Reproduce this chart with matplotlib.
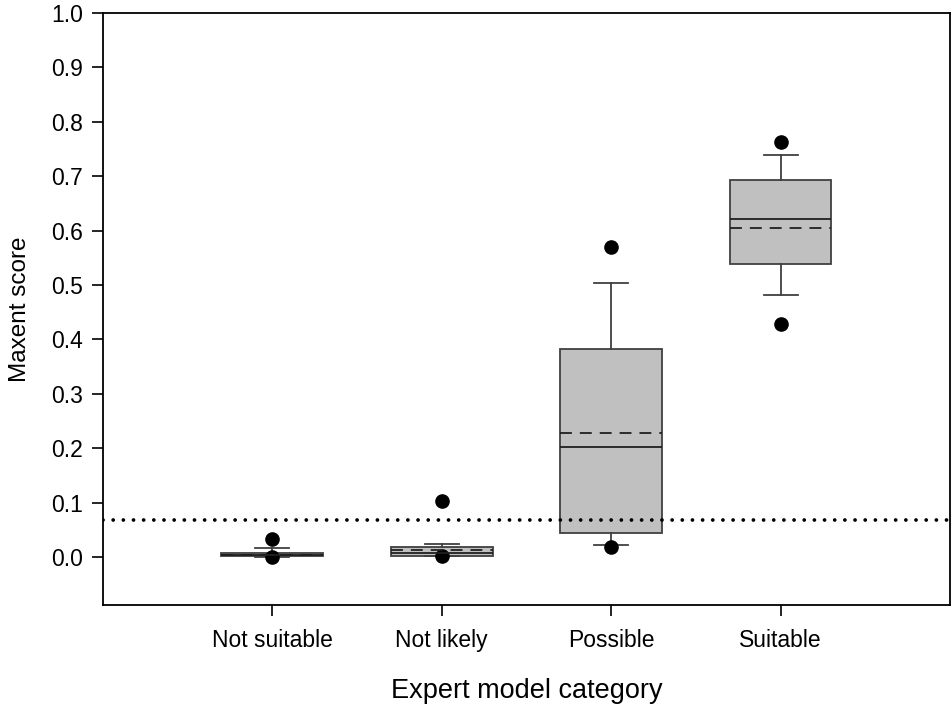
import matplotlib
matplotlib.use("Agg")
import matplotlib.pyplot as plt

# values
categories = ["Not suitable", "Not likely", "Possible", "Suitable"]
q1 = [0.002, 0.003, 0.044, 0.538]
med = [0.004, 0.008, 0.203, 0.621]
q3 = [0.008, 0.019, 0.383, 0.693]
means = [0.005, 0.013, 0.229, 0.605]
whislo = [0.001, 0.003, 0.023, 0.481]
whishi = [0.017, 0.025, 0.503, 0.738]
outliers = [[0.033, 0.000], [0.103, 0.002], [0.570, 0.019], [0.762, 0.429]]
threshold = 0.069

plt.rcParams['font.family'] = ['Liberation Sans', 'DejaVu Sans']

stats = []
for i in range(len(categories)):
    stats.append(dict(label=categories[i], q1=q1[i], med=med[i], q3=q3[i],
                      mean=means[i], whislo=whislo[i], whishi=whishi[i],
                      fliers=outliers[i]))

fig = plt.figure(figsize=(9.52, 7.07), dpi=100)
ax = fig.add_axes([0.108, 0.144, 0.890, 0.838])

edge = "#404040"
ax.bxp(stats, positions=[1, 2, 3, 4], widths=0.6, patch_artist=True,
       showmeans=True, meanline=True,
       boxprops=dict(facecolor="#c0c0c0", edgecolor=edge, linewidth=1.3),
       medianprops=dict(color="#202020", linewidth=1.3),
       meanprops=dict(color="#202020", linewidth=1.3, linestyle=(0, (6.6, 4.4))),
       whiskerprops=dict(color=edge, linewidth=1.3),
       capprops=dict(color=edge, linewidth=1.3),
       capwidths=0.2,
       flierprops=dict(marker="o", markerfacecolor="black", markeredgecolor="black",
                       markersize=9.5))

ax.axhline(threshold, color="black", linewidth=2.7, linestyle=(0, (0.01, 2.7)),
           dash_capstyle="round", zorder=5)

ax.set_xlim(0, 5)
ax.set_ylim(-0.088, 1.0)
ax.set_yticks([0.0, 0.1, 0.2, 0.3, 0.4, 0.5, 0.6, 0.7, 0.8, 0.9, 1.0])
ax.set_yticklabels(["%.1f" % v for v in ax.get_yticks()])
ax.set_xticks([1, 2, 3, 4])
ax.set_xticklabels(categories)
ax.tick_params(direction="out", length=8, width=1.2, labelsize=16.5, pad=6)
ax.tick_params(axis="x", pad=9)
for s in ax.spines.values():
    s.set_linewidth(1.3)

ax.set_ylabel("Maxent score", fontsize=17.5, labelpad=15)
ax.set_xlabel("Expert model category", fontsize=19.5, labelpad=19)

fig.savefig("out.png", dpi=100)
